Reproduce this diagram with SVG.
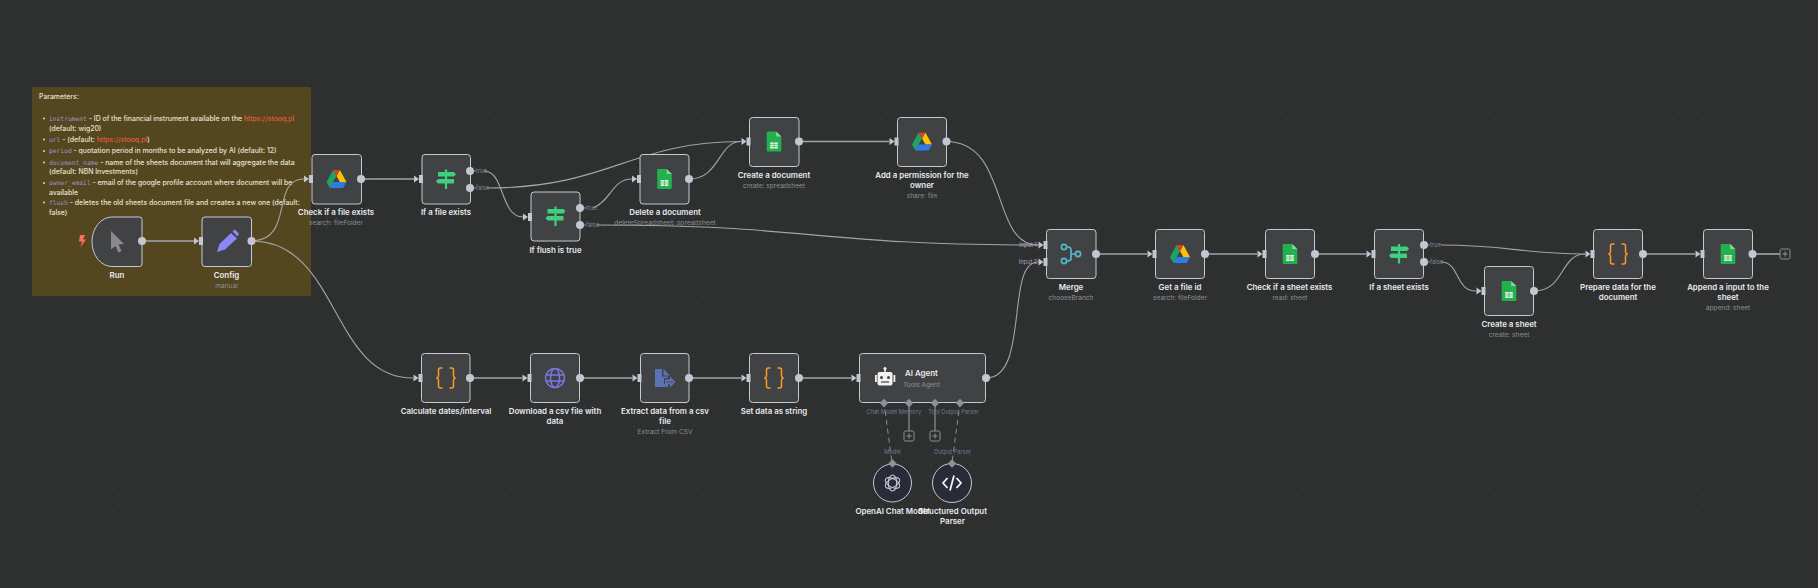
<svg xmlns="http://www.w3.org/2000/svg" width="1818" height="588" viewBox="0 0 1818 588">
<style>
text{font-family:"Inter","Liberation Sans",sans-serif}
.box{fill:#414244;stroke:#c6c9d2;stroke-width:1}
.lbl{font-size:7.9px;font-weight:600;fill:#e9eaf0;text-anchor:middle}
.sub{font-size:6.6px;fill:#8b8f99;text-anchor:middle}
.tf{font-size:5.8px;fill:#7d8da3}
.in{font-size:5.7px;fill:#a7a2c8;text-anchor:middle}
.sup{font-size:5.7px;fill:#717a9a;text-anchor:middle}
.c{fill:none;stroke:#a3a5aa;stroke-width:1.1}
.s{fill:none;stroke:#a3a5aa;stroke-width:1.6}
.d{fill:none;stroke:#8d8f96;stroke-width:1;stroke-dasharray:5 4}
.p{fill:#c4c7d1}
.dm{fill:#8f919a}
.n{font-size:6.9px;font-weight:500;fill:#e6e2d2}
.code{font-family:"DejaVu Sans Mono","Liberation Mono",monospace;fill:#9c95cc;font-size:6.3px}
.lnk{fill:#e35b38}
.plus{fill:none;stroke:#8f919a;stroke-width:1}
</style>
<defs>
<pattern id="grid" width="9.9" height="9.9" patternUnits="userSpaceOnUse" x="5" y="5"><circle cx="5" cy="5" r="0.6" fill="#46484a"/></pattern>
<g id="arr"><path d="M-8,-3.5L-3,0L-8,3.5Z" class="p"/><rect x="-3" y="-4" width="4" height="8" class="p"/></g>
<g id="drive"><path d="M-3.4,-9L-10,3L-6.700,9L0,-3Z" fill="#1fa463"/><path d="M3.400,-9L10,3H3.400L0,-3Z" fill="#ffc107"/><path d="M-3.400,-9H3.400L0,-3Z" fill="#d93f2e"/><path d="M-3.400,3H10L6.700,9H-6.700Z" fill="#2f7ae5"/></g>
<g id="sheet"><path d="M-6.300,-10H2.200L7.300,-5V9Q7.300,10 6.300,10H-6.300Q-7.300,10 -7.300,9V-9Q-7.300,-10 -6.300,-10Z" fill="#23b14d"/><path d="M2.200,-10L7.300,-5H2.200Z" fill="#8ed1a5"/><path d="M-3.800,1H3.800V7H-3.800Z" fill="#e8f6ec"/><path d="M-3.800,3H3.800M-3.800,5H3.800M0,1V7" stroke="#23b14d" stroke-width="0.6"/></g>
<g id="iff" fill="#3ecf7f"><rect x="-1.100" y="-9.500" width="2.200" height="19.500"/><path d="M-8,-7H8L10,-4.800L8,-2.500H-8Z"/><path d="M-8,0H8V4.500H-8L-10,2.200Z"/></g>
<g id="braces" fill="none" stroke="#ff9b22" stroke-width="1.500"><path d="M-3.500,-10H-5.800Q-7.500,-10 -7.500,-8V-2.200Q-7.500,-0.500 -9.500,0Q-7.500,0.500 -7.500,2.200V8Q-7.500,10 -5.800,10H-3.500"/><path d="M3.500,-10H5.800Q7.500,-10 7.500,-8V-2.200Q7.500,-0.500 9.500,0Q7.500,0.500 7.500,2.200V8Q7.500,10 5.800,10H3.500"/></g>
<g id="plus"><rect x="-5" y="-5" width="10" height="10" rx="1.500" class="plus"/><path d="M-2.600,0H2.600M0,-2.600V2.600" class="plus"/></g>
<path id="dia" d="M0,-4.200L4.200,0L0,4.200L-4.200,0Z" class="dm"/>
</defs>
<rect width="1818" height="588" fill="#2e2f2f"/>
<rect width="1818" height="588" fill="url(#grid)"/>

<g id="sticky">
<rect x="32" y="87" width="279" height="209" rx="1.500" fill="#54471f"/>
<text class="n" x="39" y="99">Parameters:</text>
<g fill="#c6c9d8"><circle cx="44" cy="118.500" r="1.100"/><circle cx="44" cy="139.500" r="1.100"/><circle cx="44" cy="151" r="1.100"/><circle cx="44" cy="162.500" r="1.100"/><circle cx="44" cy="183" r="1.100"/><circle cx="44" cy="202.500" r="1.100"/></g>
<text class="n" x="49" y="120.500"><tspan class="code">instrument</tspan> - ID of the financial instrument available on the <tspan class="lnk">https://stooq.pl</tspan></text>
<text class="n" x="49" y="130.500">(default: wig20)</text>
<text class="n" x="49" y="141.500"><tspan class="code">url</tspan> - (default: <tspan class="lnk">https://stooq.pl</tspan>)</text>
<text class="n" x="49" y="153"><tspan class="code">period</tspan> - quotation period in months to be analyzed by AI (default: 12)</text>
<text class="n" x="49" y="164.500"><tspan class="code">document_name</tspan> - name of the sheets document that will aggregate the data</text>
<text class="n" x="49" y="173.500">(default: NBN Investments)</text>
<text class="n" x="49" y="185"><tspan class="code">owner_email</tspan> - email of the google profile account where document will be</text>
<text class="n" x="49" y="194.500">available</text>
<text class="n" x="49" y="204.500"><tspan class="code">flush</tspan> - deletes the old sheets document file and creates a new one (default:</text>
<text class="n" x="49" y="214.500">false)</text>
</g>

<g id="connectors">
<path class="s" d="M142,241H194"/>
<path class="c" d="M251,241C295,241 270,179 304,179"/>
<path class="c" d="M251,241C340,241 330,378 413,378"/>
<path class="s" d="M361,179H414"/>
<path class="c" d="M484,171C505,171 500,217 523,217"/>
<path class="c" d="M487,188C610,188 630,141.500 741,141.500"/>
<path class="c" d="M593,208C612,200 612,179 632,179"/>
<path class="c" d="M597,225C813,225 813,245 1038,245"/>
<path class="c" d="M689,179C720,179 718,141.500 741,141.500"/>
<path class="s" d="M799,141.500H889"/>
<path class="c" d="M946,141.500C1010,141.500 990,245 1038,245"/>
<path class="c" d="M986,378C1030,378 1005,262 1038,262"/>
<path class="s" d="M1096,254H1147"/>
<path class="s" d="M1204,254H1257"/>
<path class="s" d="M1315,254H1366"/>
<path class="c" d="M1441,245C1510,245 1520,254 1585,254"/>
<path class="c" d="M1441,262C1460,262 1455,291 1476,291"/>
<path class="c" d="M1534,291C1565,291 1560,254 1585,254"/>
<path class="s" d="M1643,254H1695"/>
<path class="s" d="M1753,254H1780"/>
<path class="s" d="M470,378H522"/>
<path class="s" d="M580,378H632"/>
<path class="s" d="M689,378H741"/>
<path class="s" d="M799,378H851"/>
<path class="d" d="M884,402L892,463"/>
<path class="d" d="M960,402L952,463"/>
<path class="s" style="stroke-width:1" d="M909,406V431"/>
<path class="s" style="stroke-width:1" d="M935,406V431"/>
</g>

<g id="run"><path class="box" d="M112,217H139.500Q142,217 142,219.500V264Q142,266.500 139.500,266.500H112A20,24.750 0 0 1 92,241.750A20,24.750 0 0 1 112,217Z"/>
<path d="M111,231L124,244L118.500,244.500L121.500,251L118.500,252.500L115.500,246L111,249.500Z" fill="#8a8a8d"/>
<path d="M80,235L85,235L83,239.500H86L80.500,247L82,241.500H79Z" fill="#ff6d5a"/>
<circle class="p" cx="142" cy="241" r="4"/>
<text class="lbl" x="117" y="278">Run</text></g>

<g id="config"><rect class="box" x="202" y="217" width="49.500" height="49.500" rx="3"/>
<use href="#arr" x="202" y="241"/>
<path d="M217,252L219.500,244L231,233L237,238.500L225,249.500Z" fill="#8b87f7"/><path d="M232.500,231.500L234,230Q235,229.500 236,230.500L238.500,233Q239,234 238.500,235L237.500,236.500Z" fill="#8b87f7"/>
<circle class="p" cx="251.500" cy="241" r="4"/>
<text class="lbl" x="226.500" y="278">Config</text><text class="sub" x="226.500" y="288">manual</text></g>

<g id="check-file"><rect class="box" x="312" y="154.500" width="49.500" height="49.500" rx="3"/><use href="#arr" x="312" y="179"/><use href="#drive" x="336.500" y="179"/><circle class="p" cx="361" cy="179" r="4"/>
<text class="lbl" x="336" y="215">Check if a file exists</text><text class="sub" x="336" y="225">search: fileFolder</text></g>

<g id="if-file"><rect class="box" x="422" y="154.500" width="48.500" height="49.500" rx="3"/><use href="#arr" x="422" y="179"/><use href="#iff" x="446" y="179"/><circle class="p" cx="470" cy="171" r="4"/><circle class="p" cx="470" cy="188" r="4"/>
<path d="M474,171h2M474,188h2" stroke="#a3a5aa" stroke-width="0.800"/><text class="tf" x="476" y="173">true</text><text class="tf" x="476" y="190">false</text>
<text class="lbl" x="446" y="215">If a file exists</text></g>

<g id="if-flush"><rect class="box" x="531" y="192" width="49" height="49" rx="3"/><use href="#arr" x="531" y="217"/><use href="#iff" x="555.500" y="216"/><circle class="p" cx="580" cy="208" r="4"/><circle class="p" cx="580" cy="225" r="4"/>
<path d="M584,208h2M584,225h2" stroke="#a3a5aa" stroke-width="0.800"/><text class="tf" x="586" y="210">true</text><text class="tf" x="586" y="227">false</text>
<text class="lbl" x="555.500" y="253">If flush is true</text></g>

<g id="delete-doc"><rect class="box" x="640" y="154.500" width="49" height="49.500" rx="3"/><use href="#arr" x="640" y="179"/><use href="#sheet" x="664.500" y="179"/><circle class="p" cx="689" cy="179" r="4"/>
<text class="lbl" x="665" y="215">Delete a document</text><text class="sub" x="665" y="225">deleteSpreadsheet: spreadsheet</text></g>

<g id="create-doc"><rect class="box" x="749.500" y="117.500" width="49.500" height="49" rx="3"/><use href="#arr" x="749.500" y="141.500"/><use href="#sheet" x="774" y="141.500"/><circle class="p" cx="799" cy="141.500" r="4"/>
<text class="lbl" x="774" y="178">Create a document</text><text class="sub" x="774" y="188">create: spreadsheet</text></g>

<g id="permission"><rect class="box" x="897.500" y="117.500" width="49" height="49" rx="3"/><use href="#arr" x="897.500" y="141.500"/><use href="#drive" x="922" y="141.500"/><circle class="p" cx="946.500" cy="141.500" r="4"/>
<text class="lbl" x="922" y="178">Add a permission for the</text><text class="lbl" x="922" y="188">owner</text><text class="sub" x="922" y="198">share: file</text></g>

<g id="merge"><rect class="box" x="1046.500" y="229.500" width="49.500" height="49" rx="3"/><use href="#arr" x="1046.500" y="245"/><use href="#arr" x="1046.500" y="262"/>
<g fill="none" stroke="#54b8c9" stroke-width="1.700"><circle cx="1064" cy="247" r="2.600"/><circle cx="1064" cy="261" r="2.600"/><circle cx="1078" cy="254" r="2.600"/><path d="M1066.600,247H1068Q1071,247 1071,250V258Q1071,261 1068,261H1066.600M1071,254H1075.400"/></g>
<circle class="p" cx="1096" cy="254" r="4"/>
<text class="in" x="1028" y="247">Input 1</text><text class="in" x="1028" y="264">Input 2</text>
<text class="lbl" x="1071" y="290">Merge</text><text class="sub" x="1071" y="300">chooseBranch</text></g>

<g id="get-id"><rect class="box" x="1155.500" y="229.500" width="49" height="49" rx="3"/><use href="#arr" x="1155.500" y="254"/><use href="#drive" x="1180" y="254"/><circle class="p" cx="1205" cy="254" r="4"/>
<text class="lbl" x="1180" y="290">Get a file id</text><text class="sub" x="1180" y="300">search: fileFolder</text></g>

<g id="check-sheet"><rect class="box" x="1265.500" y="229.500" width="49" height="49" rx="3"/><use href="#arr" x="1265.500" y="254"/><use href="#sheet" x="1290" y="254"/><circle class="p" cx="1315" cy="254" r="4"/>
<text class="lbl" x="1289.500" y="290">Check if a sheet exists</text><text class="sub" x="1290" y="300">read: sheet</text></g>

<g id="if-sheet"><rect class="box" x="1374.500" y="229.500" width="49" height="49" rx="3"/><use href="#arr" x="1374.500" y="254"/><use href="#iff" x="1399" y="253.500"/><circle class="p" cx="1424" cy="245" r="4"/><circle class="p" cx="1424" cy="262" r="4"/>
<path d="M1428,245h2M1428,262h2" stroke="#a3a5aa" stroke-width="0.800"/><text class="tf" x="1430" y="247">true</text><text class="tf" x="1430" y="264">false</text>
<text class="lbl" x="1399" y="290">If a sheet exists</text></g>

<g id="create-sheet"><rect class="box" x="1484.500" y="266.500" width="49" height="49" rx="3"/><use href="#arr" x="1484.500" y="291"/><use href="#sheet" x="1509" y="291"/><circle class="p" cx="1534" cy="291" r="4"/>
<text class="lbl" x="1509" y="327">Create a sheet</text><text class="sub" x="1509" y="337">create: sheet</text></g>

<g id="prepare"><rect class="box" x="1593.500" y="229.500" width="49" height="49" rx="3"/><use href="#arr" x="1593.500" y="254"/><use href="#braces" x="1618" y="254"/><circle class="p" cx="1643" cy="254" r="4"/>
<text class="lbl" x="1618" y="290">Prepare data for the</text><text class="lbl" x="1618" y="300">document</text></g>

<g id="append"><rect class="box" x="1703.500" y="229.500" width="49" height="49" rx="3"/><use href="#arr" x="1703.500" y="254"/><use href="#sheet" x="1728" y="254"/><circle class="p" cx="1752.500" cy="254" r="4"/>
<use href="#plus" x="1785" y="254"/>
<text class="lbl" x="1728" y="290">Append a input to the</text><text class="lbl" x="1728" y="300">sheet</text><text class="sub" x="1728" y="310">append: sheet</text></g>

<g id="calc"><rect class="box" x="421.500" y="353.500" width="48.500" height="49" rx="3"/><use href="#arr" x="421.500" y="378"/><use href="#braces" x="446" y="378"/><circle class="p" cx="470" cy="378" r="4"/>
<text class="lbl" x="446" y="414">Calculate dates/interval</text></g>

<g id="download"><rect class="box" x="530.500" y="353.500" width="49" height="49" rx="3"/><use href="#arr" x="530.500" y="378"/>
<g fill="none" stroke="#7d77e6" stroke-width="1.500"><circle cx="555" cy="378" r="9.500"/><ellipse cx="555" cy="378" rx="4.500" ry="9.500"/><path d="M546,375H564M546,381H564"/></g>
<circle class="p" cx="580" cy="378" r="4"/>
<text class="lbl" x="555" y="414">Download a csv file with</text><text class="lbl" x="555" y="424">data</text></g>

<g id="extract"><rect class="box" x="640.500" y="353.500" width="48.500" height="49" rx="3"/><use href="#arr" x="640.500" y="378"/>
<path d="M655,369H662V376.500H668V378H664V384H668V387H655Z" fill="#5b73b5"/><path d="M663.500,369L670,375.500H663.500Z" fill="#5b73b5"/><path d="M665,379.500H670V376.500L675.500,382L670,387.500V384.500H665Z" fill="#5b73b5"/><path d="M666,382H673" stroke="#414244" stroke-width="0.800"/>
<circle class="p" cx="689" cy="378" r="4"/>
<text class="lbl" x="665" y="414">Extract data from a csv</text><text class="lbl" x="665" y="424">file</text><text class="sub" x="665" y="434">Extract From CSV</text></g>

<g id="set-data"><rect class="box" x="749.500" y="353.500" width="49" height="49" rx="3"/><use href="#arr" x="749.500" y="378"/><use href="#braces" x="774" y="378"/><circle class="p" cx="799" cy="378" r="4"/>
<text class="lbl" x="774" y="414">Set data as string</text></g>

<g id="agent"><rect class="box" x="859.500" y="353.500" width="126" height="49" rx="3"/><use href="#arr" x="859.500" y="378"/>
<g fill="#f2f2f2"><rect x="875" y="375" width="1.800" height="7"/><rect x="893.500" y="375" width="1.800" height="7"/><rect x="877.500" y="372" width="15" height="13.500" rx="2"/><rect x="884.300" y="369" width="1.500" height="4"/><circle cx="885" cy="368.500" r="1.500"/></g>
<circle cx="881.500" cy="377.500" r="1.500" fill="#414244"/><circle cx="888.500" cy="377.500" r="1.500" fill="#414244"/><path d="M881,382H889" stroke="#414244" stroke-width="1.200"/>
<circle class="p" cx="986" cy="378" r="4"/>
<text x="905" y="376" style="font-size:7.900px;font-weight:600;fill:#e9eaf0">AI Agent</text>
<text x="903" y="386.500" style="font-size:6.600px;fill:#8b8f99">Tools Agent</text>
<use href="#dia" x="884" y="403"/><use href="#dia" x="909" y="403"/><use href="#dia" x="935" y="403"/><use href="#dia" x="960" y="403"/>
<text class="sup" x="882" y="414">Chat Model</text><text class="sup" x="910" y="414">Memory</text><text class="sup" x="934" y="414">Tool</text><text class="sup" x="960" y="414">Output Parser</text>
<use href="#plus" x="909" y="436"/><use href="#plus" x="935" y="436"/></g>

<g id="openai"><circle cx="892.500" cy="483" r="19" fill="#2a2b38" stroke="#c6c9d2" stroke-width="1"/>
<g fill="none" stroke="#c9ccd4" stroke-width="1.100"><ellipse cx="892.500" cy="483" rx="4.200" ry="8"/><ellipse cx="892.500" cy="483" rx="4.200" ry="8" transform="rotate(60 892.500 483)"/><ellipse cx="892.500" cy="483" rx="4.200" ry="8" transform="rotate(120 892.500 483)"/></g>
<use href="#dia" x="892.500" y="463.500"/>
<text class="sup" x="892.500" y="454">Model</text>
<text class="lbl" x="892.500" y="514">OpenAI Chat Model</text></g>

<g id="parser"><circle cx="952" cy="483" r="19.500" fill="#2a2b38" stroke="#c6c9d2" stroke-width="1"/>
<path d="M947.500,478L943,483L947.500,488M956.500,478L961,483L956.500,488M954,475.500L950,490.500" fill="none" stroke="#f5f5f5" stroke-width="1.800"/>
<use href="#dia" x="952" y="463.500"/>
<text class="sup" x="952.500" y="454">Output Parser</text>
<text class="lbl" x="952.500" y="514">Structured Output</text><text class="lbl" x="952.500" y="524">Parser</text></g>
</svg>
